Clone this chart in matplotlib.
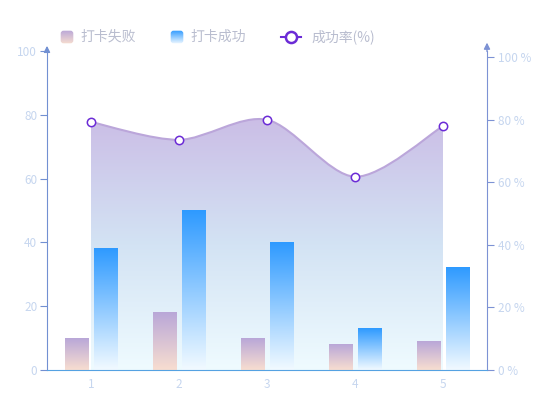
import numpy as np
import matplotlib
matplotlib.use("Agg")
from matplotlib import pyplot as plt
from matplotlib.path import Path
from matplotlib.patches import PathPatch, FancyBboxPatch
from matplotlib.colors import LinearSegmentedColormap

plt.rcParams['font.family'] = ['Noto Sans CJK SC', 'DejaVu Sans']

# data
days = [1, 2, 3, 4, 5]
fail_cnt = [10, 18, 10, 8, 9]
ok_cnt = [38, 50, 40, 13, 32]
ok_rate = [79.3, 73.6, 80.0, 61.8, 78.0]
legend_names = ['打卡失败', '打卡成功', '成功率(%)']

tick_col = '#c6d6ef'
fail_cmap = LinearSegmentedColormap.from_list('fail', ['#f8ded0', '#b9a7d8'])
ok_cmap = LinearSegmentedColormap.from_list('ok', ['#f2faff', '#2e9aff'])
area_cmap = LinearSegmentedColormap.from_list('area', ['#effbff', '#d3e3f4', '#cbbee6'])
grad = np.linspace(0, 1, 256).reshape(-1, 1)

fig = plt.figure(figsize=(5.5, 4.2), dpi=100)
ax = fig.add_axes([47/550, 50/420, 440/550, 319/420])
ax2 = ax.twinx()
ax.set_zorder(ax2.get_zorder() + 1)
ax.patch.set_visible(False)

# smooth line for the rate (bezier through the points)
x = np.array(days, dtype=float)
y = np.array(ok_rate)
s = 0.3
verts = [(x[0], y[0])]
codes = [Path.MOVETO]
n = len(x)
for i in range(n - 1):
    p0 = np.array([x[max(i-1, 0)], y[max(i-1, 0)]])
    p1 = np.array([x[i], y[i]])
    p2 = np.array([x[i+1], y[i+1]])
    p3 = np.array([x[min(i+2, n-1)], y[min(i+2, n-1)]])
    c1 = p1 + (p2 - p0) * s / 2
    c2 = p2 - (p3 - p1) * s / 2
    verts += [tuple(c1), tuple(c2), tuple(p2)]
    codes += [Path.CURVE4] * 3
line_path = Path(verts, codes)
area_path = Path(verts + [(x[-1], 0), (x[0], 0), (x[0], y[0])],
                 codes + [Path.LINETO, Path.LINETO, Path.CLOSEPOLY])

area_patch = PathPatch(area_path, facecolor='none', edgecolor='none')
ax2.add_patch(area_patch)
im = ax2.imshow(grad, cmap=area_cmap, extent=[x[0], x[-1], 0, max(ok_rate)],
                origin='lower', aspect='auto', zorder=1)
im.set_clip_path(area_patch)
ax2.add_patch(PathPatch(line_path, facecolor='none', edgecolor='#bba6da', lw=1.5, zorder=2))
ax2.plot(days, ok_rate, 'o', ms=6, mfc='white', mec='#6b2bd6', mew=1.1, zorder=3)

# bars with gradient
w = 0.27
off = 0.165
for d, f, o in zip(days, fail_cnt, ok_cnt):
    ax.imshow(grad, cmap=fail_cmap, extent=[d - off - w/2, d - off + w/2, 0, f],
              origin='lower', aspect='auto', zorder=2)
    ax.imshow(grad, cmap=ok_cmap, extent=[d + off - w/2, d + off + w/2, 0, o],
              origin='lower', aspect='auto', zorder=2)

ax.set_xlim(0.5, 5.5)
ax.set_ylim(0, 100)
ax2.set_ylim(0, 102)
ax.set_xticks(days)
ax.set_yticks(range(0, 101, 20))
ax2.set_yticks(range(0, 101, 20))
ax2.set_yticklabels([f'{v} %' for v in range(0, 101, 20)])

for a in (ax, ax2):
    for sp in a.spines.values():
        sp.set_visible(False)
ax.spines['left'].set_visible(True)
ax.spines['left'].set_color('#7290d2')
ax.spines['bottom'].set_visible(True)
ax.spines['bottom'].set_color('#55a2e2')
ax2.spines['right'].set_visible(True)
ax2.spines['right'].set_color('#7d92d4')
ax.tick_params(axis='y', colors='#7290d2', labelcolor=tick_col, labelsize=8.5, length=5, pad=2)
ax.tick_params(axis='x', length=0, labelcolor=tick_col, labelsize=8.5, pad=6)
ax2.tick_params(axis='y', colors='#7d92d4', labelcolor=tick_col, labelsize=8.5, length=5, pad=3)

# arrows on the axis ends
ax.annotate('', xy=(0, 1.025), xytext=(0, 0.99), xycoords='axes fraction',
            arrowprops=dict(arrowstyle='-|>', color='#7290d2', lw=1, mutation_scale=9))
ax.annotate('', xy=(1, 1.035), xytext=(1, 0.99), xycoords='axes fraction',
            arrowprops=dict(arrowstyle='-|>', color='#7d92d4', lw=1, mutation_scale=9))

# legend (drawn by hand)
def px(xp, yp):
    return xp / 550, 1 - yp / 420

for x0, cmap, label in [(60, fail_cmap, legend_names[0]), (170, ok_cmap, legend_names[1])]:
    lx, ly = px(x0, 44)
    la = fig.add_axes([lx, ly, 14/550, 14/420])
    la.imshow(grad, cmap=cmap, origin='lower', aspect='auto', extent=[0, 1, 0, 1])
    la.set_xlim(0, 1); la.set_ylim(0, 1)
    la.axis('off')
    clip = FancyBboxPatch((0.05, 0.05), 0.9, 0.9, boxstyle='round,pad=0,rounding_size=0.2',
                          transform=la.transAxes, facecolor='none', edgecolor='none')
    la.add_patch(clip)
    la.images[0].set_clip_path(clip)
    tx, ty = px(x0 + 20, 37)
    fig.text(tx, ty, label, color='#b9bdcf', fontsize=10, va='center')

lx1, ly1 = px(281, 37)
lx2, _ = px(301, 37)
fig.add_artist(plt.Line2D([lx1, lx2], [ly1, ly1], color='#6b2bd6', lw=1.5))
mx, _ = px(291, 37)
fig.add_artist(plt.Line2D([mx], [ly1], marker='o', ms=8, mfc='white', mec='#6b2bd6', mew=1.8))
tx, ty = px(311, 37)
fig.text(tx, ty, legend_names[2], color='#b9bdcf', fontsize=10, va='center')

fig.savefig('out.png', dpi=100)
